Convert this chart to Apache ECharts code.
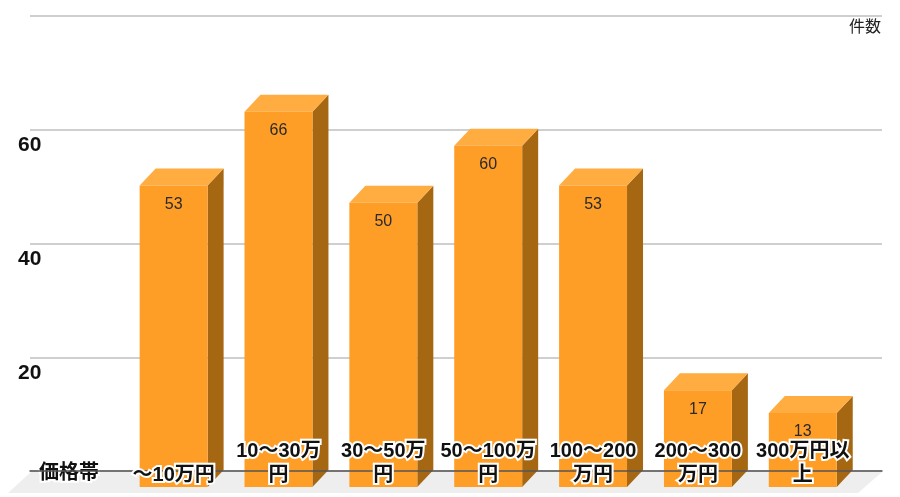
<!DOCTYPE html>
<html><head><meta charset="utf-8">
<style>html,body{margin:0;padding:0;background:#fff}#c{width:900px;height:497px}</style>
<script src="https://cdn.jsdelivr.net/npm/echarts@6/dist/echarts.min.js"></script>
</head><body><div id="c"></div>
<script>
const categories = ['～10万円','10～30万\n円','30～50万\n円','50～100万\n円','100～200\n万円','200～300\n万円','300万円以\n上'];
const counts = [53,66,50,60,53,17,13];
const xAxisName = '価格帯';
const yAxisName = '件数';
const FONT = '"Liberation Sans","Noto Sans CJK JP",sans-serif';

const chart = echarts.init(document.getElementById('c'), null, {renderer:'canvas'});
const DX = 16, DY = 17, RATIO = 0.648;
chart.setOption({
  animation:false,
  backgroundColor:'#fff',
  textStyle:{fontFamily:FONT},
  title:{text:yAxisName,right:17,top:20,padding:0,z:20,
    textStyle:{fontSize:16,fontWeight:'normal',color:'#222',fontFamily:FONT,textBorderColor:'#fff',textBorderWidth:2}},
  graphic:[{type:'polygon',z:-10,silent:true,
    shape:{points:[[31,472],[882,472],[858,493],[8,493]]},style:{fill:'#eeeeee'}}],
  grid:[
    {left:30,right:18,top:16,height:455},
    {left:121.2,width:734,top:32,height:455}
  ],
  xAxis:[
    {gridIndex:0,type:'category',data:categories,axisTick:{show:false},axisLabel:{show:false},
     axisLine:{lineStyle:{color:'#555',width:1.5}},splitLine:{show:false},
     name:xAxisName,nameLocation:'start',nameGap:-39,z:8,
     nameTextStyle:{fontSize:20,fontWeight:'bold',color:'#111',align:'center',verticalAlign:'top',lineHeight:4,
       fontFamily:FONT,textBorderColor:'#fff',textBorderWidth:4}},
    {gridIndex:1,type:'category',data:categories,axisTick:{show:false},axisLine:{show:false},z:10,
     axisLabel:{inside:true,interval:0,margin:0,fontSize:20,fontWeight:'bold',lineHeight:24,color:'#111',
       fontFamily:FONT,textBorderColor:'#fff',textBorderWidth:4,verticalAlign:'bottom',hideOverlap:false}}
  ],
  yAxis:[
    {gridIndex:0,type:'value',min:0,max:80,interval:20,axisLine:{show:false},axisTick:{show:false},
     splitLine:{lineStyle:{color:'#cfcfcf',width:2}},
     axisLabel:{showMinLabel:false,showMaxLabel:false,align:'left',margin:12,fontSize:21,color:'#111',
       fontWeight:'bold',verticalAlign:'top',lineHeight:31,fontFamily:FONT}},
    {gridIndex:1,type:'value',min:0,max:80,interval:20,show:false}
  ],
  series:[{
    type:'custom',xAxisIndex:1,yAxisIndex:1,coordinateSystem:'cartesian2d',z:5,clip:false,
    data:counts.map((v,i)=>[i,v]),
    encode:{x:0,y:1},
    renderItem:(params,api)=>{
      const top = api.coord([api.value(0),api.value(1)]);
      const base = api.coord([api.value(0),0]);
      const w = api.size([1,0])[0]*RATIO;
      const x = top[0]-w/2, y = top[1], y0 = base[1];
      return {type:'group',children:[
        {type:'polygon',shape:{points:[[x+w,y],[x+w+DX,y-DY],[x+w+DX,y0-DY],[x+w,y0]]},style:{fill:'#A66713'}},
        {type:'polygon',shape:{points:[[x,y],[x+DX,y-DY],[x+w+DX,y-DY],[x+w,y]]},style:{fill:'#FFAC40'}},
        {type:'rect',shape:{x,y,width:w,height:y0-y},style:{fill:'#FF9E27'}},
        {type:'text',style:{x:x+w/2,y:y+19,text:String(api.value(1)),align:'center',verticalAlign:'middle',
          font:'16px '+FONT,fill:'#2a2a2a'}}
      ]};
    }
  }]
});
</script></body></html>
